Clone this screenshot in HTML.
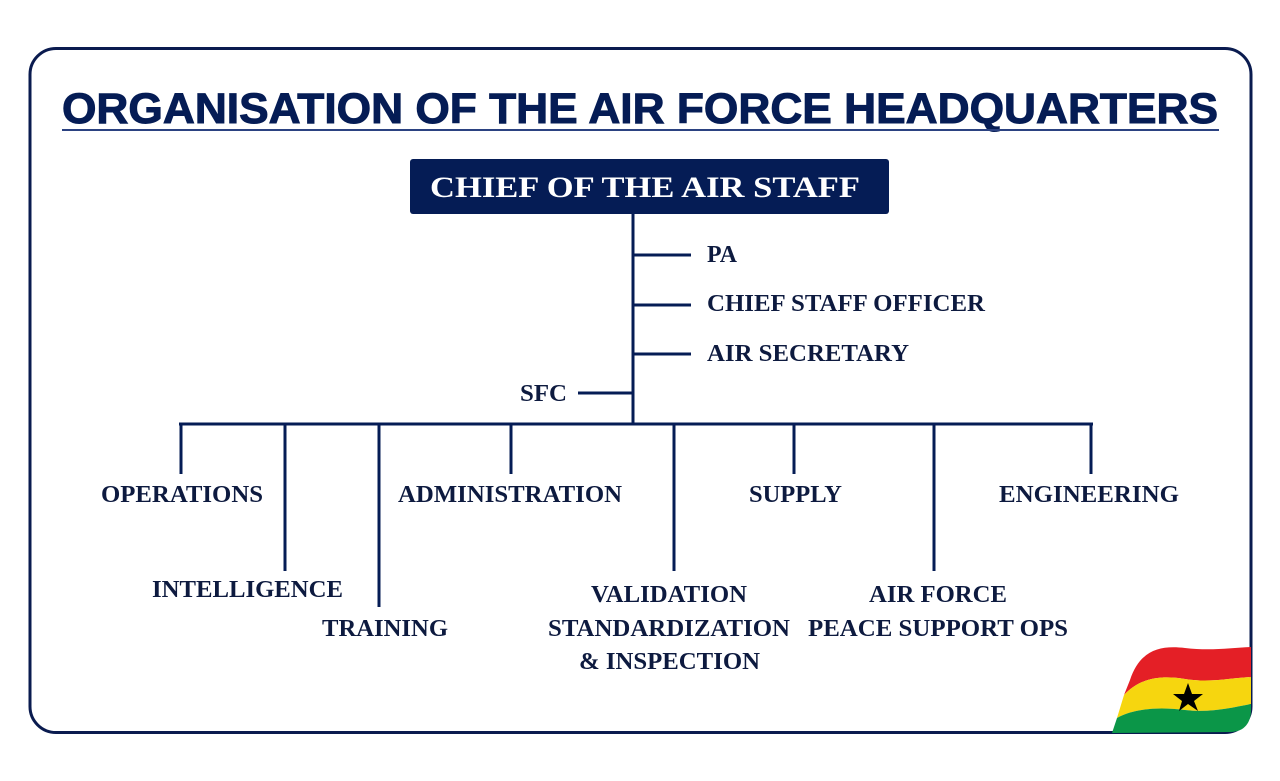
<!DOCTYPE html>
<html><head><meta charset="utf-8"><style>
html,body{margin:0;padding:0;background:#fff;}
svg{display:block;}
.t{font-family:"Liberation Serif",serif;font-weight:bold;font-size:24px;fill:#0d1a3f;}
</style></head><body>
<svg width="1280" height="781" viewBox="0 0 1280 781" xmlns="http://www.w3.org/2000/svg">
<rect x="30" y="48.5" width="1221" height="684" rx="26" fill="#fff" stroke="#0a1b4f" stroke-width="3"/>
<text x="62" y="123" font-family="Liberation Sans, sans-serif" font-weight="bold" font-size="43" fill="#051c55" stroke="#051c55" stroke-width="1" textLength="1156" lengthAdjust="spacingAndGlyphs">ORGANISATION OF THE AIR FORCE HEADQUARTERS</text>
<line x1="62" y1="130" x2="1219" y2="130" stroke="#2b4281" stroke-width="2"/>
<rect x="410" y="159" width="479" height="55" rx="3" fill="#051c55"/>
<text x="645" y="197" text-anchor="middle" font-family="Liberation Serif, serif" font-weight="bold" font-size="30" fill="#fff" textLength="430" lengthAdjust="spacingAndGlyphs">CHIEF OF THE AIR STAFF</text>
<g stroke="#051c55" stroke-width="3" fill="none">
<line x1="633" y1="214" x2="633" y2="424"/>
<line x1="633" y1="255" x2="691" y2="255"/>
<line x1="633" y1="305" x2="691" y2="305"/>
<line x1="633" y1="354" x2="691" y2="354"/>
<line x1="578" y1="393" x2="633" y2="393"/>
<line x1="179" y1="424" x2="1093" y2="424"/>
<line x1="181" y1="424" x2="181" y2="474"/>
<line x1="285" y1="424" x2="285" y2="571"/>
<line x1="379" y1="424" x2="379" y2="607"/>
<line x1="511" y1="424" x2="511" y2="474"/>
<line x1="674" y1="424" x2="674" y2="571"/>
<line x1="794" y1="424" x2="794" y2="474"/>
<line x1="934" y1="424" x2="934" y2="571"/>
<line x1="1091" y1="424" x2="1091" y2="474"/>
</g>
<g lengthAdjust="spacingAndGlyphs">
<text class="t" x="707" y="262" textLength="30" lengthAdjust="spacingAndGlyphs">PA</text>
<text class="t" x="707" y="311" textLength="278" lengthAdjust="spacingAndGlyphs">CHIEF STAFF OFFICER</text>
<text class="t" x="707" y="361" textLength="202" lengthAdjust="spacingAndGlyphs">AIR SECRETARY</text>
<text class="t" x="520" y="401" textLength="47" lengthAdjust="spacingAndGlyphs">SFC</text>
<text class="t" x="101" y="502" textLength="162" lengthAdjust="spacingAndGlyphs">OPERATIONS</text>
<text class="t" x="398" y="502" textLength="224" lengthAdjust="spacingAndGlyphs">ADMINISTRATION</text>
<text class="t" x="749" y="502" textLength="93" lengthAdjust="spacingAndGlyphs">SUPPLY</text>
<text class="t" x="999" y="502" textLength="180" lengthAdjust="spacingAndGlyphs">ENGINEERING</text>
<text class="t" x="152" y="597" textLength="191" lengthAdjust="spacingAndGlyphs">INTELLIGENCE</text>
<text class="t" x="322" y="636" textLength="126" lengthAdjust="spacingAndGlyphs">TRAINING</text>
<text class="t" x="591" y="602" textLength="156" lengthAdjust="spacingAndGlyphs">VALIDATION</text>
<text class="t" x="548" y="636" textLength="242" lengthAdjust="spacingAndGlyphs">STANDARDIZATION</text>
<text class="t" x="579" y="669" textLength="181" lengthAdjust="spacingAndGlyphs">&amp; INSPECTION</text>
<text class="t" x="869" y="602" textLength="138" lengthAdjust="spacingAndGlyphs">AIR FORCE</text>
<text class="t" x="808" y="636" textLength="260" lengthAdjust="spacingAndGlyphs">PEACE SUPPORT OPS</text>
</g>
<!-- flag -->
<path d="M1130 680 C1140 650 1160 645 1185 648 C1210 651 1230 648 1251 647 L1251 677 C1230 678 1210 683 1185 679 C1160 675 1140 678 1124 695 Z" fill="#e41f26"/>
<path d="M1124 695 C1140 678 1160 675 1185 679 C1210 683 1230 678 1251 677 L1251 704 C1230 708 1210 713 1185 710 C1160 707 1135 708 1117 718 Z" fill="#f6d60f"/>
<path d="M1117 718 C1135 708 1160 707 1185 710 C1210 713 1230 708 1251 704 L1251 710 C1251 722 1245 732 1230 732 L1112 733 Z" fill="#0b9648"/>
<polygon points="1188,683 1192,694 1203,694 1194,701 1198,711 1188,704 1179,711 1182,701 1173,694 1184,694" fill="#000"/>
</svg>
</body></html>
